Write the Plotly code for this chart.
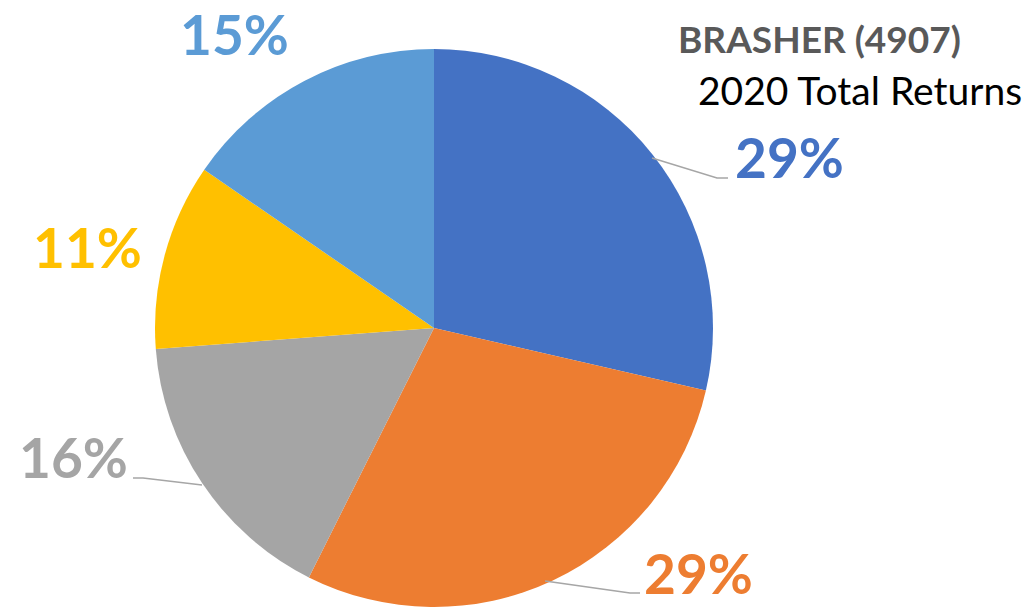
import plotly.graph_objects as go

# Data
categories = ["Segment 1", "Segment 2", "Segment 3", "Segment 4", "Segment 5"]
values = [28.6, 28.8, 16.4, 10.8, 15.4]
colors = ["#4472C4", "#ED7D31", "#A5A5A5", "#FFC000", "#5B9BD5"]
title_line1 = "BRASHER (4907)"
title_line2 = "2020 Total Returns"

W, H = 1030, 607
total = sum(values)
pct_labels = [f"{round(v / total * 100):.0f}%" for v in values]

fig = go.Figure(go.Pie(
    labels=categories,
    values=values,
    sort=False,
    direction="clockwise",
    rotation=0,
    marker=dict(colors=colors, line=dict(width=0)),
    textinfo="none",
    hoverinfo="label+percent",
    showlegend=False,
    domain=dict(x=[154 / W, 714 / W], y=[0.0, 558 / H]),
))

# label positions in pixels (centre x, centre y from top)
label_pos = [(789, 157), (698, 573), (73, 457), (87, 247), (234, 34)]
for (px, py), txt, col in zip(label_pos, pct_labels, colors):
    fig.add_annotation(
        x=px / W, y=1 - py / H, xref="paper", yref="paper",
        text=f"<b>{txt}</b>", showarrow=False,
        font=dict(family="Lato", size=55, color=col),
        xanchor="center", yanchor="middle",
    )

# leader lines (pixel paths)
leaders = [
    [(652, 158), (717, 178), (728, 178)],
    [(545, 581), (630, 593), (640, 593)],
    [(133, 478), (143, 478), (202, 485)],
]
for pts in leaders:
    path = "M " + " L ".join(f"{x / W},{1 - y / H}" for x, y in pts)
    fig.add_shape(type="path", path=path, xref="paper", yref="paper",
                  line=dict(color="#A6A6A6", width=1.5))

fig.add_annotation(x=819 / W, y=1 - 38 / H, xref="paper", yref="paper",
                   text=f"<b>{title_line1}</b>", showarrow=False,
                   font=dict(family="Lato", size=37, color="#595959"),
                   xanchor="center", yanchor="middle")
fig.add_annotation(x=860 / W, y=1 - 90 / H, xref="paper", yref="paper",
                   text=title_line2, showarrow=False,
                   font=dict(family="Lato", size=39, color="#000000"),
                   xanchor="center", yanchor="middle")

fig.update_layout(
    width=W, height=H,
    margin=dict(l=0, r=0, t=0, b=0),
    paper_bgcolor="white", plot_bgcolor="white",
)

fig.write_html(
    "out.html",
    config={"displayModeBar": False},
    post_script="document.body.style.margin='0';document.body.style.overflow='hidden';",
)
